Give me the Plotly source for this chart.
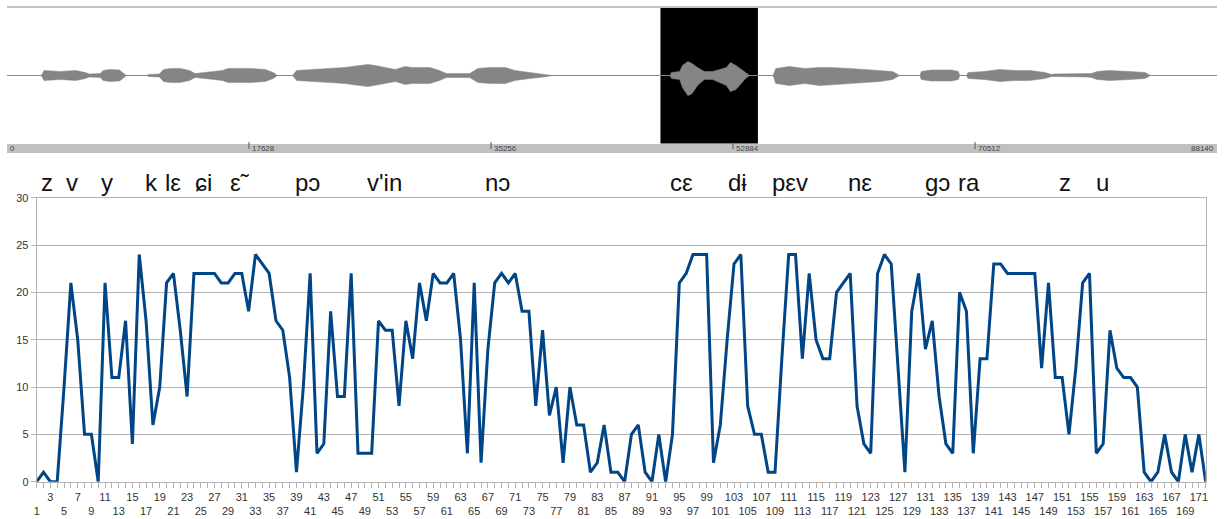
import plotly.graph_objects as go

# ---------------- data ----------------
categories = list(range(1, 173))
values = [
    0, 1, 0, 0, 10, 21, 15, 5, 5, 0,
    21, 11, 11, 17, 4, 24, 17, 6, 10, 21,
    22, 16, 9, 22, 22, 22, 22, 21, 21, 22,
    22, 18, 24, 23, 22, 17, 16, 11, 1, 10,
    22, 3, 4, 18, 9, 9, 22, 3, 3, 3,
    17, 16, 16, 8, 17, 13, 21, 17, 22, 21,
    21, 22, 15, 3, 21, 2, 14, 21, 22, 21,
    22, 18, 18, 8, 16, 7, 10, 2, 10, 6,
    6, 1, 2, 6, 1, 1, 0, 5, 6, 1,
    0, 5, 0, 5, 21, 22, 24, 24, 24, 2,
    6, 15, 23, 24, 8, 5, 5, 1, 1, 13,
    24, 24, 13, 22, 15, 13, 13, 20, 21, 22,
    8, 4, 3, 22, 24, 23, 12, 1, 18, 22,
    14, 17, 9, 4, 3, 20, 18, 3, 13, 13,
    23, 23, 22, 22, 22, 22, 22, 12, 21, 11,
    11, 5, 12, 21, 22, 3, 4, 16, 12, 11,
    11, 10, 1, 0, 1, 5, 1, 0, 5, 1,
    5, 0,
]
y_ticks = [0, 5, 10, 15, 20, 25, 30]
row1_ticks = categories[2::4]   # 3, 7, 11, ... 171
row2_ticks = categories[0::4]   # 1, 5, 9, ... 169

# waveform (sample index vs. amplitude envelope)
wave_total = [0, 88140]
ruler_ticks = [0, 17628, 35256, 52884, 70512, 88140]
selection = [47600, 54700]
wave_samples = [
    2500, 2700, 3900, 5000, 5700, 6000, 6800, 7000, 7500, 8200, 8500, 8700,
    10200, 10300, 11100, 11400, 11900, 12600, 13300, 13700, 14400, 15200, 15700,
    16100, 17700, 18800, 19400, 19700,
    20800, 21100, 22100, 23500, 24600, 25700, 26300, 26800, 27500, 28300, 29000,
    29500, 30100, 30800, 31500, 32000, 33700, 34300, 35200, 36300, 37000, 38100,
    39400, 39700,
    48300, 48400, 49000, 49200, 49600, 49900, 50300, 50800, 51400, 52400, 52700,
    53100, 53800, 54100,
    55800, 56000, 57000, 58100, 59200, 59900, 61400, 63600, 64500, 64900, 65000,
    66500, 66600, 67300, 68800, 69300, 69400,
    69900, 70000, 71200, 72300, 73400, 74500, 75600, 76100, 76200, 78700,
    79000, 79400, 80300, 81800, 82900, 83300,
]
wave_upper = [
    0, 5, 4, 5, 3, 1.5, 2, 5, 6, 5.5, 2, 0,
    0, 1, 1.5, 6, 7, 7, 5, 2, 3, 4, 5,
    7, 7, 6, 3, 0,
    0, 5, 6, 7, 8, 10, 11, 10, 8, 6, 9,
    8, 8, 8, 5, 2, 2, 7, 8, 8, 5, 3,
    1, 0,
    0, 3, 4, 10, 14, 12, 8, 4, 4, 8, 13,
    10, 3, 0,
    0, 7, 9, 7, 8, 8, 7, 5, 4, 1, 0,
    0, 4, 5.5, 5.5, 4, 0,
    0, 3, 4, 6, 5, 5, 3, 1, 1.5, 1.5,
    2, 4, 5, 4, 3, 0,
]
wave_lower = [
    0, 5, 4, 5, 3, 1.5, 2, 5, 6, 5.5, 2, 0,
    0, 1, 1.5, 6, 7, 7, 5, 2, 3, 4, 5,
    7, 7, 6, 3, 0,
    0, 5, 6, 7, 8, 10, 11, 10, 8, 6, 9,
    8, 8, 8, 5, 2, 2, 7, 8, 8, 5, 3,
    1, 0,
    0, 3, 4, 12, 20, 18, 10, 4, 4, 10, 16,
    14, 3, 0,
    0, 8, 10, 8, 10, 9, 8, 6, 4, 1, 0,
    0, 4, 5.5, 5.5, 4, 0,
    0, 3, 4, 6, 5, 5, 3, 1, 1.5, 1.5,
    2, 4, 5, 4, 3, 0,
]

syllables = ["z", "v", "y", "k", "lε", "ɕi", "ε˜", "pɔ", "v'in", "nɔ",
             "cε", "dɨ", "pεv", "nε", "gɔ", "ra", "z", "u"]
syllable_pos = [2900, 4700, 7300, 10500, 12100, 14300, 17000, 21900, 27500, 35700,
                49100, 53200, 57000, 62100, 67800, 70100, 77100, 79800]

# ---------------- layout helpers ----------------
W, H = 1225, 519


def px_x(px):
    return px / W


def px_y(py):
    return (H - py) / H


GRID = "#b3b3b3"
TXT = "#333333"
FONT = "Liberation Sans, Arial, sans-serif"

fig = go.Figure()

# ----- waveform panel -----
fig.add_trace(go.Scatter(
    x=wave_total, y=[0, 0], mode="lines",
    line=dict(color="#8c8c8c", width=1),
    xaxis="x3", yaxis="y3", hoverinfo="skip", showlegend=False))
fig.add_trace(go.Scatter(
    x=wave_samples + wave_samples[::-1],
    y=wave_upper + [-v for v in wave_lower[::-1]],
    fill="toself", fillcolor="#858585", mode="lines",
    line=dict(color="#858585", width=0.5),
    xaxis="x3", yaxis="y3", hoverinfo="skip", showlegend=False))

# ----- main line chart -----
fig.add_trace(go.Scatter(
    x=categories, y=values, mode="lines",
    line=dict(color="#004586", width=3),
    showlegend=False, xaxis="x", yaxis="y"))
# invisible carrier for the second (staggered) label row
fig.add_trace(go.Scatter(
    x=categories, y=values, mode="lines",
    line=dict(color="rgba(0,0,0,0)", width=0),
    showlegend=False, hoverinfo="skip", xaxis="x2", yaxis="y"))

chart_dom_x = [px_x(36.7), px_x(1205.7)]
chart_dom_y = [px_y(481.7), px_y(197.7)]

fig.update_layout(
    width=W, height=H, autosize=False,
    margin=dict(l=0, r=0, t=0, b=0),
    paper_bgcolor="white", plot_bgcolor="white",
    font=dict(family=FONT, color=TXT),
    xaxis=dict(
        domain=chart_dom_x, anchor="y",
        range=[categories[0], categories[-1]],
        tickmode="array", tickvals=categories,
        ticktext=[str(c) if c in row1_ticks else "" for c in categories],
        ticks="outside", ticklen=5, tickcolor=GRID, tickwidth=1,
        tickfont=dict(size=11, color=TXT, family=FONT),
        showline=True, linecolor=GRID, linewidth=1, mirror=True,
        showgrid=False, zeroline=False, automargin=False,
    ),
    xaxis2=dict(
        overlaying="x", anchor="y", side="bottom",
        range=[categories[0], categories[-1]],
        tickmode="array", tickvals=row2_ticks,
        ticktext=[str(c) for c in row2_ticks],
        ticks="outside", ticklen=5, tickcolor="rgba(0,0,0,0)",
        ticklabelstandoff=14,
        tickfont=dict(size=11, color=TXT, family=FONT),
        showline=False, showgrid=False, zeroline=False, automargin=False,
    ),
    yaxis=dict(
        domain=chart_dom_y, anchor="x",
        range=[0, 30], tickmode="array", tickvals=y_ticks,
        ticks="outside", ticklen=5, tickcolor=GRID, tickwidth=1,
        tickfont=dict(size=11, color=TXT, family=FONT),
        showline=True, linecolor=GRID, linewidth=1, mirror=True,
        showgrid=True, gridcolor=GRID, gridwidth=1,
        zeroline=False, automargin=False,
    ),
    xaxis3=dict(
        domain=[px_x(7), px_x(1217)], anchor="y3",
        range=wave_total, visible=False, automargin=False,
    ),
    yaxis3=dict(
        domain=[px_y(143.5), px_y(7.5)], anchor="x3",
        range=[-67.5, 67.5], visible=False, automargin=False,
    ),
)

shapes = []
# selection (black block)
shapes.append(dict(type="rect", xref="x3", yref="y3 domain",
                   x0=selection[0], x1=selection[1], y0=0, y1=1,
                   fillcolor="black", line=dict(width=0), layer="below"))
# top border of waveform panel
shapes.append(dict(type="line", xref="x3", yref="paper",
                   x0=wave_total[0], x1=wave_total[1],
                   y0=px_y(7), y1=px_y(7),
                   line=dict(color="#c4c4c4", width=2)))
# ruler bar
shapes.append(dict(type="rect", xref="x3", yref="paper",
                   x0=wave_total[0], x1=wave_total[1],
                   y0=px_y(153), y1=px_y(144),
                   fillcolor="#c0c0c0", line=dict(width=0), layer="below"))
for t in ruler_ticks[1:-1]:
    shapes.append(dict(type="line", xref="x3", yref="paper",
                       x0=t, x1=t, y0=px_y(149), y1=px_y(142),
                       line=dict(color="#555555", width=1)))
fig.update_layout(shapes=shapes)

annotations = []
for i, t in enumerate(ruler_ticks):
    last = i == len(ruler_ticks) - 1
    annotations.append(dict(
        x=t, xref="x3", y=px_y(148.5), yref="paper",
        text=str(t), showarrow=False,
        xanchor="right" if last else "left", yanchor="middle",
        xshift=-1 if last else 1,
        font=dict(size=8, color="#444444", family=FONT)))
for s, p in zip(syllables, syllable_pos):
    annotations.append(dict(
        x=p, xref="x3", y=px_y(182), yref="paper",
        text=s, showarrow=False, xanchor="center", yanchor="middle",
        font=dict(size=24, color="#111111", family=FONT)))
fig.update_layout(annotations=annotations)

fig.write_html("out.html")
